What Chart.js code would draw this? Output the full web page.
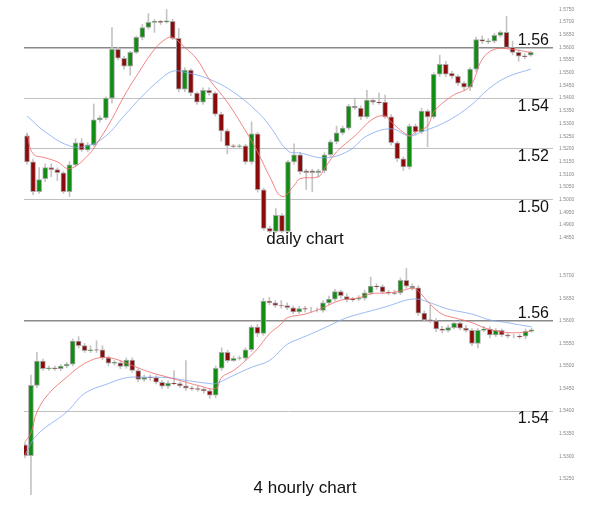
<!DOCTYPE html>
<html>
<head>
<meta charset="utf-8">
<script src="https://cdn.jsdelivr.net/npm/chart.js@4.4.0/dist/chart.umd.min.js"></script>
<style>
  body { margin: 0; background: #fff; width: 590px; height: 510px; position: relative; overflow: hidden; font-family: "Liberation Sans", Arial, sans-serif; }
  .pane { position: absolute; left: 0; width: 590px; }
  .cap { position: absolute; width: 590px; left: 10px; text-align: center; font-size: 17px; color: #111; }
</style>
</head>
<body>
<div class="pane" style="top:0;height:248px"><canvas id="daily"></canvas></div>
<div class="pane" style="top:255px;height:249px"><canvas id="h4"></canvas></div>
<div class="cap" style="top:229px">daily chart</div>
<div class="cap" style="top:478px">4 hourly chart</div>
<script>
// ─── Daily candles ───────────────────────────────────────────────────────
const dOpen = [1.5251,1.5149,1.5031,1.5083,1.5126,1.5118,1.5106,1.5031,1.5137,1.5224,1.5196,1.5216,1.5314,1.5322,1.5400,1.5592,1.5557,1.5526,1.5580,1.5639,1.5678,1.5698,1.5702,1.5700,1.5702,1.5635,1.5435,1.5510,1.5420,1.5384,1.5431,1.5420,1.5337,1.5271,1.5212,1.5210,1.5212,1.5149,1.5259,1.5039,1.4887,1.4875,1.4938,1.4875,1.5149,1.5177,1.5114,1.5114,1.5106,1.5114,1.5177,1.5228,1.5263,1.5282,1.5369,1.5361,1.5326,1.5392,1.5384,1.5384,1.5326,1.5224,1.5161,1.5129,1.5290,1.5267,1.5349,1.5326,1.5494,1.5533,1.5498,1.5486,1.5459,1.5443,1.5514,1.5631,1.5622,1.5624,1.5647,1.5659,1.5600,1.5580,1.5567,1.5569];
const dClose = [1.5149,1.5031,1.5079,1.5126,1.5118,1.5106,1.5031,1.5137,1.5224,1.5196,1.5216,1.5314,1.5322,1.5400,1.5592,1.5557,1.5526,1.5580,1.5639,1.5678,1.5698,1.5702,1.5698,1.5704,1.5635,1.5435,1.5510,1.5420,1.5384,1.5431,1.5420,1.5337,1.5271,1.5212,1.5210,1.5212,1.5149,1.5259,1.5039,1.4887,1.4875,1.4938,1.4875,1.5149,1.5177,1.5110,1.5106,1.5106,1.5114,1.5177,1.5228,1.5263,1.5282,1.5369,1.5361,1.5326,1.5392,1.5384,1.5382,1.5326,1.5224,1.5161,1.5129,1.5290,1.5267,1.5349,1.5326,1.5494,1.5533,1.5494,1.5486,1.5459,1.5443,1.5514,1.5631,1.5624,1.5626,1.5647,1.5659,1.5600,1.5580,1.5565,1.5563,1.5580];
const dHigh = [1.5262,1.5160,1.5126,1.5141,1.5141,1.5125,1.5112,1.5150,1.5240,1.5240,1.5225,1.5377,1.5330,1.5405,1.5678,1.5600,1.5565,1.5585,1.5645,1.5690,1.5733,1.5710,1.5706,1.5749,1.5710,1.5674,1.5520,1.5515,1.5425,1.5440,1.5440,1.5425,1.5345,1.5278,1.5218,1.5218,1.5218,1.5306,1.5265,1.5045,1.4895,1.4965,1.4945,1.5155,1.5220,1.5185,1.5120,1.5120,1.5120,1.5185,1.5235,1.5290,1.5290,1.5375,1.5400,1.5370,1.5431,1.5400,1.5420,1.5412,1.5335,1.5230,1.5168,1.5298,1.5298,1.5360,1.5355,1.5500,1.5569,1.5545,1.5505,1.5492,1.5465,1.5520,1.5640,1.5645,1.5635,1.5655,1.5665,1.5722,1.5625,1.5590,1.5575,1.5585];
const dLow = [1.5140,1.5020,1.5025,1.5071,1.5090,1.5075,1.5025,1.5012,1.5130,1.5190,1.5190,1.5210,1.5305,1.5315,1.5380,1.5550,1.5514,1.5490,1.5575,1.5630,1.5672,1.5659,1.5690,1.5695,1.5630,1.5425,1.5425,1.5410,1.5375,1.5375,1.5412,1.5330,1.5230,1.5180,1.5200,1.5200,1.5140,1.5140,1.5030,1.4880,1.4870,1.4870,1.4870,1.4870,1.5140,1.5100,1.5040,1.5031,1.5090,1.5105,1.5170,1.5220,1.5255,1.5275,1.5355,1.5315,1.5320,1.5375,1.5375,1.5320,1.5215,1.5150,1.5115,1.5120,1.5255,1.5260,1.5208,1.5320,1.5485,1.5485,1.5478,1.5450,1.5430,1.5430,1.5505,1.5615,1.5615,1.5618,1.5640,1.5595,1.5570,1.5545,1.5555,1.5565];
// moving averages at candle indices
const dRedIdx = [1,2,4,6,8,11,13,15,17,19,22,24,25,27,29,31,34,37,39,41,43,45,46,49,50,52,55,58,60,61,64,65,67,68,71,74,76,78,81,83,84];
const dRedVal = [1.5259,1.5181,1.5165,1.5149,1.5122,1.5173,1.5239,1.5318,1.5408,1.5486,1.5592,1.5635,1.5639,1.5600,1.5553,1.5475,1.5384,1.5271,1.5188,1.5090,1.5012,1.5055,1.5083,1.5090,1.5122,1.5188,1.5251,1.5318,1.5330,1.5306,1.5251,1.5267,1.5290,1.5345,1.5408,1.5447,1.5553,1.5592,1.5592,1.5584,1.5580];
const dBlueIdx = [1,4,8,11,14,17,20,23,25,27,31,35,39,41,44,46,50,54,57,61,64,66,70,74,77,80,84];
const dBlueVal = [1.5330,1.5267,1.5212,1.5212,1.5251,1.5330,1.5408,1.5475,1.5506,1.5502,1.5475,1.5424,1.5345,1.5290,1.5192,1.5184,1.5165,1.5192,1.5251,1.5279,1.5251,1.5267,1.5306,1.5369,1.5435,1.5482,1.5514];

// ─── 4 hourly candles ────────────────────────────────────────────────────
const hOpen = [1.5325,1.5301,1.5457,1.5511,1.5494,1.5496,1.5494,1.5500,1.5504,1.5555,1.5545,1.5534,1.5536,1.5536,1.5518,1.5506,1.5507,1.5499,1.5513,1.5490,1.5470,1.5475,1.5474,1.5464,1.5455,1.5462,1.5461,1.5456,1.5451,1.5450,1.5448,1.5445,1.5435,1.5495,1.5530,1.5512,1.5517,1.5517,1.5536,1.5586,1.5572,1.5644,1.5640,1.5634,1.5634,1.5629,1.5620,1.5627,1.5625,1.5624,1.5623,1.5640,1.5648,1.5665,1.5654,1.5648,1.5648,1.5650,1.5662,1.5677,1.5676,1.5663,1.5662,1.5662,1.5690,1.5677,1.5673,1.5617,1.5602,1.5600,1.5582,1.5579,1.5585,1.5595,1.5584,1.5579,1.5550,1.5579,1.5582,1.5569,1.5579,1.5569,1.5566,1.5566,1.5566,1.5577];
const hClose = [1.5301,1.5457,1.5511,1.5494,1.5496,1.5494,1.5500,1.5504,1.5555,1.5545,1.5534,1.5536,1.5535,1.5518,1.5506,1.5508,1.5499,1.5513,1.5490,1.5470,1.5475,1.5474,1.5464,1.5455,1.5462,1.5461,1.5456,1.5451,1.5450,1.5448,1.5445,1.5435,1.5495,1.5530,1.5512,1.5517,1.5518,1.5536,1.5586,1.5572,1.5644,1.5640,1.5634,1.5633,1.5629,1.5620,1.5627,1.5626,1.5625,1.5624,1.5640,1.5648,1.5665,1.5656,1.5647,1.5647,1.5650,1.5662,1.5677,1.5676,1.5664,1.5662,1.5661,1.5690,1.5677,1.5673,1.5617,1.5602,1.5601,1.5582,1.5579,1.5585,1.5595,1.5584,1.5579,1.5550,1.5579,1.5582,1.5569,1.5579,1.5569,1.5566,1.5566,1.5565,1.5577,1.5580];
const hHigh = [1.5330,1.5480,1.5530,1.5515,1.5500,1.5500,1.5503,1.5508,1.5560,1.5565,1.5550,1.5545,1.5556,1.5545,1.5522,1.5512,1.5512,1.5518,1.5518,1.5494,1.5480,1.5480,1.5478,1.5468,1.5467,1.5490,1.5465,1.5512,1.5455,1.5455,1.5452,1.5450,1.5500,1.5540,1.5535,1.5522,1.5522,1.5540,1.5590,1.5592,1.5650,1.5652,1.5645,1.5645,1.5640,1.5633,1.5632,1.5632,1.5630,1.5629,1.5645,1.5655,1.5670,1.5668,1.5660,1.5652,1.5656,1.5668,1.5697,1.5682,1.5680,1.5668,1.5668,1.5695,1.5716,1.5682,1.5678,1.5622,1.5635,1.5605,1.5588,1.5590,1.5600,1.5600,1.5590,1.5583,1.5583,1.5588,1.5587,1.5583,1.5582,1.5573,1.5570,1.5570,1.5582,1.5584];
const hLow = [1.5296,1.5208,1.5452,1.5490,1.5490,1.5490,1.5490,1.5496,1.5500,1.5540,1.5530,1.5530,1.5530,1.5514,1.5500,1.5502,1.5494,1.5495,1.5486,1.5465,1.5466,1.5468,1.5460,1.5450,1.5450,1.5458,1.5452,1.5446,1.5446,1.5444,1.5440,1.5428,1.5430,1.5490,1.5508,1.5510,1.5513,1.5512,1.5532,1.5565,1.5568,1.5636,1.5630,1.5628,1.5625,1.5616,1.5616,1.5620,1.5620,1.5620,1.5619,1.5636,1.5644,1.5650,1.5642,1.5643,1.5645,1.5646,1.5658,1.5670,1.5660,1.5658,1.5658,1.5658,1.5672,1.5668,1.5612,1.5598,1.5596,1.5576,1.5573,1.5575,1.5582,1.5580,1.5575,1.5545,1.5540,1.5576,1.5562,1.5565,1.5565,1.5562,1.5562,1.5561,1.5560,1.5575];
const hRedIdx = [1,2,3,5,8,10,12,14,16,19,22,25,28,30,33,34,36,38,40,42,44,45,48,51,54,57,59,62,64,66,67,69,71,73,76,78,80,82,84,86];
const hRedVal = [1.5332,1.5351,1.5398,1.5439,1.5475,1.5497,1.5512,1.5519,1.5516,1.5501,1.5486,1.5475,1.5464,1.5457,1.5450,1.5475,1.5490,1.5512,1.5538,1.5571,1.5593,1.5607,1.5615,1.5629,1.5646,1.5651,1.5660,1.5662,1.5666,1.5672,1.5666,1.5637,1.5615,1.5607,1.5596,1.5585,1.5578,1.5574,1.5574,1.5577];
const hBlueIdx = [1,3,8,11,15,18,21,25,28,32,33,36,39,42,45,47,49,52,55,59,62,65,67,69,72,76,79,82,84,86];
const hBlueVal = [1.5303,1.5347,1.5398,1.5439,1.5461,1.5474,1.5475,1.5474,1.5468,1.5461,1.5461,1.5479,1.5497,1.5512,1.5548,1.5560,1.5571,1.5589,1.5607,1.5622,1.5633,1.5646,1.5648,1.5640,1.5626,1.5615,1.5602,1.5596,1.5591,1.5587];

const majorTicks = [1.50, 1.52, 1.54, 1.56];

// ─── Chart builder ───────────────────────────────────────────────────────
const UP = '#128c12', DOWN = '#8b0a0a';
const near = (v, t) => Math.abs(v - t) < 1e-6;

const bigLabels = {
  id: 'bigLabels',
  afterDraw(chart, args, opts) {
    const { ctx } = chart, y = chart.scales.y;
    ctx.save();
    ctx.font = '16px "Liberation Sans", Arial, sans-serif';
    ctx.fillStyle = '#111';
    ctx.textAlign = 'right';
    ctx.textBaseline = 'middle';
    opts.items.forEach(([v, dy]) => {
      if (v < y.min || v > y.max) return;
      ctx.fillText(v.toFixed(2), 549, y.getPixelForValue(v) + dy);
    });
    ctx.restore();
  },
};

function build(id, o, c, hi, lo, redIdx, redVal, blueIdx, blueVal, xr, yr, labelOffsets, pad) {
  const idx = o.map((_, i) => i + 1);
  new Chart(document.getElementById(id), {
    type: 'bar',
    data: { datasets: [
      { data: idx.map(i => ({ x: i, y: [lo[i-1], hi[i-1]] })), backgroundColor: '#c4c4c4', barThickness: 1, grouped: false, order: 3 },
      { data: idx.map(i => ({ x: i, y: [o[i-1], c[i-1]] })),
        backgroundColor: idx.map(i => c[i-1] >= o[i-1] ? UP : DOWN),
        borderColor: '#a8a8a8', borderWidth: 1, borderSkipped: false, barThickness: 5, grouped: false, order: 2 },
      { type: 'line', data: redIdx.map((x, k) => ({ x, y: redVal[k] })), borderColor: 'rgba(240,110,110,0.85)', borderWidth: 1, pointRadius: 0, tension: 0.4, order: 1 },
      { type: 'line', data: blueIdx.map((x, k) => ({ x, y: blueVal[k] })), borderColor: 'rgba(130,170,240,0.8)', borderWidth: 1, pointRadius: 0, tension: 0.4, order: 1 },
    ]},
    options: {
      responsive: true, maintainAspectRatio: false, animation: false,
      layout: { padding: pad },
      plugins: { legend: { display: false }, tooltip: { enabled: false }, bigLabels: { items: labelOffsets } },
      scales: {
        x: { type: 'linear', min: xr[0], max: xr[1], display: false, offset: false },
        y: {
          position: 'right', min: yr[0], max: yr[1],
          afterFit: s => { s.width = 37; },
          border: { display: false },
          ticks: { stepSize: 0.005, includeBounds: false, color: '#888', padding: 6, font: { size: 5 }, callback: v => v.toFixed(4) },
          grid: {
            drawTicks: false,
            color: ctx => near(ctx.tick.value, 1.56) ? '#8a8a8a' : majorTicks.some(t => near(ctx.tick.value, t)) ? '#c0c0c0' : 'rgba(0,0,0,0)',
            lineWidth: ctx => near(ctx.tick.value, 1.56) ? 1.5 : 1,
          },
        },
      },
    },
    plugins: [bigLabels],
  });
}

build('daily', dOpen, dClose, dHigh, dLow, dRedIdx, dRedVal, dBlueIdx, dBlueVal,
  [0.506, 87.66], [1.4845, 1.5751], [[1.56, -7], [1.54, 8], [1.52, 8], [1.50, 8]],
  { left: 24, top: 3, bottom: 4, right: 0 });
build('h4', hOpen, hClose, hHigh, hLow, hRedIdx, hRedVal, hBlueIdx, hBlueVal,
  [0.832, 89.6], [1.5214, 1.5726], [[1.56, -7], [1.54, 8]],
  { left: 24, top: 3, bottom: 4, right: 0 });
</script>
</body>
</html>
